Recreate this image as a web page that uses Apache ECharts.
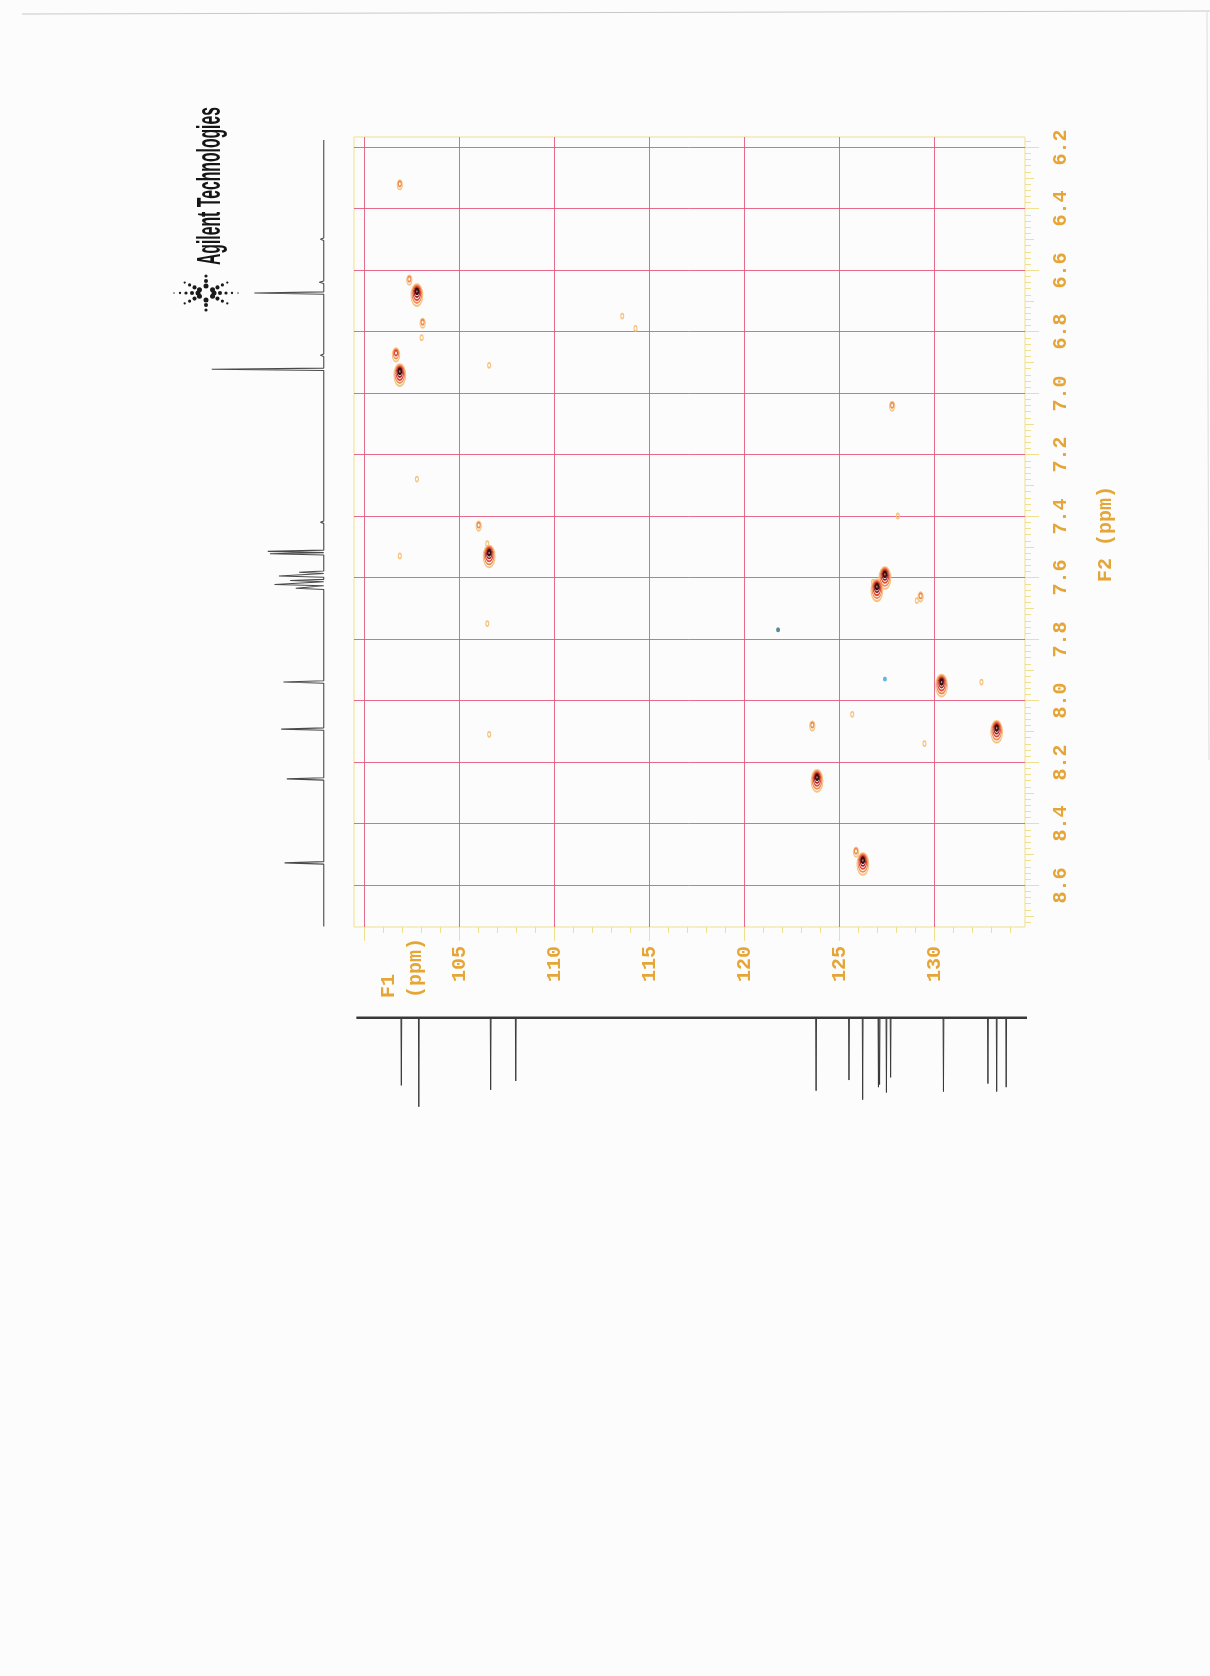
<!DOCTYPE html>
<html>
<head>
<meta charset="utf-8">
<script src="https://cdn.jsdelivr.net/npm/echarts@6/dist/echarts.min.js"></script>
<style>
  html, body { margin: 0; padding: 0; background: #fcfcfc; }
  #chart { width: 1210px; height: 1676px; }
</style>
</head>
<body>
<div id="chart"></div>
<script>
// gHSQC plot: F1 = 13C shift (ppm, horizontal), F2 = 1H shift (ppm, vertical)
const F1_RANGE = [99.49, 134.79];
const F2_RANGE = [6.1675, 8.7366];

const F1_MAJOR = [100, 105, 110, 115, 120, 125, 130];
const F1_LABELS = ['', '105', '110', '115', '120', '125', '130'];
const F2_MAJOR = [6.2, 6.4, 6.6, 6.8, 7.0, 7.2, 7.4, 7.6, 7.8, 8.0, 8.2, 8.4, 8.6];
const F2_LABELS = ['6.2', '6.4', '6.6', '6.8', '7.0', '7.2', '7.4', '7.6', '7.8', '8.0', '8.2', '8.4', '8.6'];

// cross peaks: 13C shift, 1H shift, contour depth (1 = faint ... 5 = strong)
const PEAK_C = [101.9, 102.4, 102.8, 103.1, 103.05, 101.7, 101.9, 106.6, 113.6, 114.3,
                127.8, 106.05, 106.5, 106.6, 101.9, 128.1, 127.0, 127.42, 126.8, 129.3,
                129.1, 130.4, 132.5, 125.7, 123.6, 133.3, 129.5, 106.5, 106.6, 123.85,
                125.9, 126.26, 102.8];
const PEAK_H = [6.32, 6.63, 6.67, 6.77, 6.82, 6.87, 6.93, 6.91, 6.75, 6.79,
                7.04, 7.43, 7.49, 7.52, 7.53, 7.40, 7.63, 7.59, 7.615, 7.66,
                7.675, 7.94, 7.94, 8.045, 8.08, 8.09, 8.14, 7.75, 8.11, 8.25,
                8.49, 8.52, 7.28];
const PEAK_LEVEL = [2, 2, 5, 2, 1, 3, 5, 1, 1, 1,
                    2, 2, 1, 5, 1, 1, 5, 5, 1, 2,
                    1, 5, 1, 1, 2, 5, 1, 1, 1, 5,
                    2, 5, 1];
// negative-phase cross peaks
const NEG_C = [127.42, 121.8];
const NEG_H = [7.93, 7.77];

// 1H projection (left): shift (ppm), relative height
const H1_SHIFT = [6.50, 6.64, 6.675, 6.877, 6.923, 7.42, 7.515, 7.523, 7.583, 7.595,
                  7.610, 7.623, 7.635, 7.94, 8.093, 8.255, 8.528];
const H1_INT = [3, 4, 62, 3, 100, 3, 50, 48, 22, 40,
                30, 44, 25, 36, 38, 33, 35];

// 13C projection (bottom): shift (ppm), relative height
const C13_SHIFT = [101.98, 102.9, 106.68, 108.0, 123.8, 125.53, 126.25, 127.08, 127.14,
                   127.5, 127.72, 130.5, 132.84, 133.3, 133.8];
const C13_INT = [76, 100, 81, 71, 82, 70, 92, 78, 75,
                 84, 67, 83, 74, 83, 78];

const LABEL_COLOR = '#e6a637';
const FRAME_COLOR = '#efe18c';
const GRID_COLOR = 'rgba(226, 80, 118, 0.85)';
const LEVEL_COLORS = ['#f6c480', '#ef8a4e', '#df4638', '#a3201e', '#341010'];
const MONO = '"Liberation Mono", "DejaVu Sans Mono", monospace';

// ---- axis tick tables ----
const f1Ticks = [];
for (let v = 100; v <= 134; v++) {
  const mi = F1_MAJOR.indexOf(v);
  f1Ticks.push([v, mi >= 0 ? 1 : 0, mi]);
}
const f2Ticks = [];
for (let i = 309; i <= 436; i++) {
  const v = i / 50;
  const mi = (i % 10 === 0) ? F2_MAJOR.findIndex(m => Math.abs(m - v) < 1e-6) : -1;
  f2Ticks.push([v, mi >= 0 ? 2 : (i % 5 === 0 ? 1 : 0), mi]);
}

// ---- contour series: one series per contour level ----
const contourSeries = [];
for (let L = 1; L <= 5; L++) {
  const data = [];
  PEAK_C.forEach((c, i) => {
    const k = PEAK_LEVEL[i];
    if (k >= L) {
      const r = k - L;
      data.push({ value: [c, PEAK_H[i], r], symbolOffset: [0, r * 0.9] });
    }
  });
  contourSeries.push({
    type: 'scatter',
    xAxisIndex: 0, yAxisIndex: 0,
    symbol: 'circle',
    symbolSize: (val) => [3 + 2.2 * val[2], 5 + 4.2 * val[2]],
    itemStyle: {
      color: L === 5 ? '#e27b6c' : 'rgba(0,0,0,0)',
      borderColor: LEVEL_COLORS[L - 1],
      borderWidth: L === 5 ? 2 : 1.4,
      opacity: 1
    },
    z: 5 + L,
    silent: true,
    data
  });
}

// ---- projection traces ----
function stickTrace(shifts, ints, halfWidth, start, end, swap) {
  const order = shifts.map((s, i) => i).sort((a, b) => shifts[a] - shifts[b]);
  const pts = [[start, 0]];
  order.forEach(i => {
    pts.push([shifts[i] - halfWidth, 0], [shifts[i], ints[i]], [shifts[i] + halfWidth, 0]);
  });
  pts.push([end, 0]);
  return swap ? pts.map(p => [p[1], p[0]]) : pts;
}

const chart = echarts.init(document.getElementById('chart'), null, { renderer: 'canvas' });

// logo text width for the condensed wordmark
const measureCtx = document.createElement('canvas').getContext('2d');
const LOGO_FONT = 'bold 33px "Liberation Sans Narrow", "Liberation Sans", sans-serif';
measureCtx.font = LOGO_FONT;
const logoScale = 158 / measureCtx.measureText('Agilent Technologies').width;

// spark logo dots
const spark = [];
const SPX = 206, SPY = 293;
[0, 35, 90, 145, 180, 215, 270, 325].forEach(a => {
  const rad = a * Math.PI / 180;
  const horiz = (a === 0 || a === 180);
  const vert = (a === 90 || a === 270);
  const dists = horiz ? [8, 14, 20, 26, 32] : vert ? [7, 12, 17] : [8, 14, 20, 26];
  dists.forEach((d, j) => {
    spark.push({
      type: 'circle',
      shape: { cx: SPX + d * Math.cos(rad), cy: SPY - d * Math.sin(rad) * (vert ? 1 : 0.7), r: Math.max(0.7, 2.5 - j * 0.45) },
      style: { fill: '#1a1a1a' },
      silent: true
    });
  });
});

const option = {
  backgroundColor: '#fcfcfc',
  animation: false,
  grid: [
    { left: 354, top: 137, width: 671, height: 790, show: true, borderColor: FRAME_COLOR, borderWidth: 1, backgroundColor: 'rgba(0,0,0,0)' },
    { left: 174, top: 137, width: 152, height: 790 },
    { left: 354, top: 1016, width: 671, height: 100 }
  ],
  xAxis: [
    { gridIndex: 0, type: 'value', min: F1_RANGE[0], max: F1_RANGE[1], show: false },
    { gridIndex: 1, type: 'value', inverse: true, min: -2, max: 133.7, show: false },
    { gridIndex: 2, type: 'value', min: F1_RANGE[0], max: F1_RANGE[1], show: false }
  ],
  yAxis: [
    { gridIndex: 0, type: 'value', inverse: true, min: F2_RANGE[0], max: F2_RANGE[1], show: false },
    { gridIndex: 1, type: 'value', inverse: true, min: F2_RANGE[0], max: F2_RANGE[1], show: false },
    { gridIndex: 2, type: 'value', inverse: true, min: -2, max: 110.4, show: false }
  ],
  series: [
    // F1 (13C) grid lines, ticks and labels
    {
      type: 'custom', xAxisIndex: 0, yAxisIndex: 0, clip: false, silent: true, z: 1,
      data: f1Ticks,
      renderItem: (params, api) => {
        const v = api.value(0), major = api.value(1), li = api.value(2);
        const top = api.coord([v, F2_RANGE[0]]);
        const bot = api.coord([v, F2_RANGE[1]]);
        const x = Math.round(top[0]) + 0.5;
        const kids = [{
          type: 'line', shape: { x1: x, y1: bot[1], x2: x, y2: bot[1] + (major ? 14 : 6) },
          style: { stroke: FRAME_COLOR, lineWidth: 1 }
        }];
        if (major) {
          kids.push({
            type: 'line', shape: { x1: x, y1: top[1], x2: x, y2: bot[1] },
            style: { stroke: GRID_COLOR, lineWidth: 1 }
          });
          const txt = F1_LABELS[li];
          if (txt) {
            kids.push({
              type: 'text', x: x, y: bot[1] + 19, rotation: Math.PI / 2,
              style: { text: txt, fill: LABEL_COLOR, fontFamily: MONO, fontWeight: 'bold', fontSize: 20, align: 'right', verticalAlign: 'middle' }
            });
          }
        }
        return { type: 'group', children: kids };
      }
    },
    // F2 (1H) grid lines, ticks and labels
    {
      type: 'custom', xAxisIndex: 0, yAxisIndex: 0, clip: false, silent: true, z: 1,
      data: f2Ticks,
      renderItem: (params, api) => {
        const v = api.value(0), kind = api.value(1), li = api.value(2);
        const left = api.coord([F1_RANGE[0], v]);
        const right = api.coord([F1_RANGE[1], v]);
        const y = Math.round(left[1]) + 0.5;
        const len = kind === 2 ? 14 : (kind === 1 ? 9 : 6);
        const kids = [{
          type: 'line', shape: { x1: right[0], y1: y, x2: right[0] + len, y2: y },
          style: { stroke: FRAME_COLOR, lineWidth: 1 }
        }];
        if (kind === 2) {
          kids.push({
            type: 'line', shape: { x1: left[0], y1: y, x2: right[0], y2: y },
            style: { stroke: GRID_COLOR, lineWidth: 1 }
          });
          kids.push({
            type: 'text', x: right[0] + 36, y: y, rotation: Math.PI / 2,
            style: { text: F2_LABELS[li], fill: LABEL_COLOR, fontFamily: MONO, fontWeight: 'bold', fontSize: 20, align: 'center', verticalAlign: 'middle' }
          });
        }
        return { type: 'group', children: kids };
      }
    },
    ...contourSeries,
    {
      type: 'scatter', xAxisIndex: 0, yAxisIndex: 0, silent: true, z: 12,
      symbol: 'circle', symbolSize: [4, 5],
      itemStyle: { color: (p) => p.dataIndex === 0 ? '#3aa6dc' : '#2d6f80' },
      data: NEG_C.map((c, i) => [c, NEG_H[i]])
    },
    // 1H projection
    {
      type: 'line', xAxisIndex: 1, yAxisIndex: 1, silent: true, showSymbol: false, clip: false,
      lineStyle: { color: '#4a4a4a', width: 1.1 },
      data: stickTrace(H1_SHIFT, H1_INT, 0.004, 6.177, 8.735, true)
    },
    // 13C projection: baseline and lines
    {
      type: 'line', xAxisIndex: 2, yAxisIndex: 2, silent: true, showSymbol: false, clip: false,
      lineStyle: { color: '#3a3a3a', width: 2.6 },
      data: [[99.62, 0], [134.9, 0]]
    },
    {
      type: 'line', xAxisIndex: 2, yAxisIndex: 2, silent: true, showSymbol: false, clip: false,
      lineStyle: { color: '#3a3a3a', width: 1 },
      data: stickTrace(C13_SHIFT, C13_INT, 0.02, 99.62, 134.9, false)
    }
  ],
  graphic: [
    // sheet edges
    { type: 'line', shape: { x1: 22, y1: 14, x2: 1210, y2: 11 }, style: { stroke: '#c9c9c9', lineWidth: 1.2 }, silent: true },
    { type: 'line', shape: { x1: 1207, y1: 12, x2: 1209, y2: 760 }, style: { stroke: '#dcdcdc', lineWidth: 1 }, silent: true },
    // axis titles
    { type: 'text', x: 389, y: 998, rotation: Math.PI / 2, silent: true,
      style: { text: 'F1', fill: LABEL_COLOR, fontFamily: MONO, fontWeight: 'bold', fontSize: 20, align: 'left', verticalAlign: 'middle' } },
    { type: 'text', x: 416, y: 998, rotation: Math.PI / 2, silent: true,
      style: { text: '(ppm)', fill: LABEL_COLOR, fontFamily: MONO, fontWeight: 'bold', fontSize: 20, align: 'left', verticalAlign: 'middle' } },
    { type: 'text', x: 1106, y: 534, rotation: Math.PI / 2, silent: true,
      style: { text: 'F2 (ppm)', fill: LABEL_COLOR, fontFamily: MONO, fontWeight: 'bold', fontSize: 20, align: 'center', verticalAlign: 'middle' } },
    // wordmark
    { type: 'text', x: 211, y: 265, rotation: Math.PI / 2, scaleX: logoScale, silent: true,
      style: { text: 'Agilent Technologies', fill: '#151515', font: LOGO_FONT, align: 'left', verticalAlign: 'middle' } },
    ...spark
  ]
};

chart.setOption(option);
</script>
</body>
</html>
